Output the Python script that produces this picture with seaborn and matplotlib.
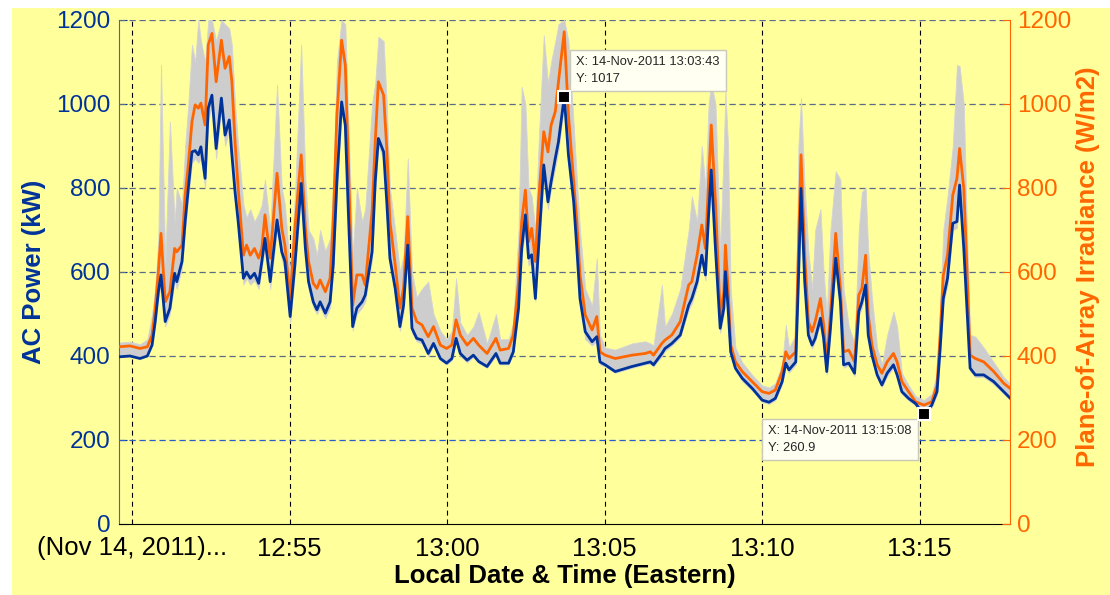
import pandas as pd
import matplotlib
matplotlib.use("Agg")
import matplotlib.pyplot as plt
from matplotlib.patches import Rectangle
import seaborn as sns

sns.set_style("white")
plt.rcParams['font.family'] = ['Liberation Sans', 'DejaVu Sans']

# sample times on 14-Nov-2011 (Eastern)
times = ["12:49:35","12:49:56","12:50:15","12:50:29","12:50:38","12:50:44","12:50:50","12:50:55","12:51:03","12:51:12",
         "12:51:21","12:51:25","12:51:35","12:51:41","12:51:47","12:51:54","12:52:00","12:52:06","12:52:11","12:52:19",
         "12:52:25","12:52:32","12:52:40","12:52:50","12:52:57","12:53:05","12:53:10","12:53:16","12:53:22","12:53:32",
         "12:53:38","12:53:45","12:53:53","12:54:01","12:54:07","12:54:13","12:54:23","12:54:36","12:54:45","12:54:51",
         "12:55:01","12:55:10","12:55:22","12:55:30","12:55:36","12:55:45","12:55:52","12:55:58","12:56:08","12:56:17",
         "12:56:23","12:56:30","12:56:39","12:56:46","12:56:52","12:57:00","12:57:08","12:57:18","12:57:24","12:57:37",
         "12:57:43","12:57:49","12:57:59","12:58:05","12:58:11","12:58:21","12:58:30","12:58:37","12:58:45","12:58:53",
         "12:59:02","12:59:12","12:59:24","12:59:34","12:59:47","12:59:59","13:00:09","13:00:17","13:00:25","13:00:38",
         "13:00:50","13:01:00","13:01:16","13:01:33","13:01:41","13:01:57","13:02:06","13:02:16","13:02:22","13:02:29",
         "13:02:35","13:02:41","13:02:48","13:02:54","13:03:04","13:03:12","13:03:18","13:03:26","13:03:32","13:03:43",
         "13:03:51","13:04:01","13:04:07","13:04:13","13:04:23","13:04:36","13:04:45","13:04:51","13:05:01","13:05:20",
         "13:05:52","13:06:17","13:06:27","13:06:33","13:06:49","13:06:55","13:07:08","13:07:24","13:07:40","13:07:46",
         "13:07:56","13:08:05","13:08:12","13:08:18","13:08:23","13:08:31","13:08:40","13:08:47","13:08:50","13:08:55",
         "13:09:00","13:09:09","13:09:22","13:09:41","13:10:00","13:10:13","13:10:25","13:10:38","13:10:45","13:10:51",
         "13:11:04","13:11:09","13:11:14","13:11:21","13:11:28","13:11:35","13:11:41","13:11:51","13:11:57","13:12:03",
         "13:12:10","13:12:20","13:12:29","13:12:35","13:12:45","13:12:56","13:13:04","13:13:10","13:13:17","13:13:22",
         "13:13:29","13:13:39","13:13:48","13:13:58","13:14:10","13:14:17","13:14:26","13:14:39","13:14:52","13:15:08",
         "13:15:23","13:15:33","13:15:39","13:15:45","13:15:53","13:16:03","13:16:11","13:16:16","13:16:24","13:16:30",
         "13:16:36","13:16:46","13:17:02","13:17:21","13:17:40","13:17:56"]

# AC power (kW)
ac_power = [398,400,394,400,426,482,553,593,482,514,
            597,577,625,720,799,886,889,879,898,823,
            990,1021,894,1014,926,962,879,791,720,585,
            600,585,597,573,625,680,577,724,648,625,
            494,617,811,656,577,529,510,529,502,529,
            617,815,1005,950,736,470,514,529,545,648,
            815,918,886,767,633,561,470,521,664,466,
            442,438,406,430,394,383,394,442,406,390,
            402,387,375,406,383,383,410,514,656,736,
            633,641,537,656,855,767,815,871,910,1017,
            879,767,656,537,458,434,446,386,379,363,
            375,383,386,379,406,418,430,450,521,537,
            577,640,593,736,843,656,466,514,601,514,
            410,371,347,323,295,290,299,339,383,367,
            386,577,799,577,450,426,442,490,442,363,
            466,633,529,379,383,359,506,529,569,450,
            402,355,331,359,379,355,315,299,287,260.9,
            283,315,418,537,585,716,720,807,656,514,
            371,355,355,339,315,295]

# plane-of-array irradiance, smoothed (W/m2)
poa_smooth = [422,424,418,422,450,514,601,692,529,553,
              656,648,664,783,855,958,998,990,1002,950,
              1141,1168,1053,1152,1085,1113,1053,910,799,640,
              664,640,656,633,656,736,633,835,704,664,
              537,704,879,704,625,573,561,581,553,585,
              720,974,1152,1093,855,521,593,593,569,744,
              910,1053,1021,894,720,617,514,561,732,514,
              482,474,446,470,426,418,426,486,450,426,
              442,426,406,442,414,418,450,577,720,795,
              672,704,625,767,934,886,950,982,1053,1172,
              974,815,720,593,498,462,494,410,402,394,
              402,406,410,402,430,438,450,482,569,577,
              640,712,656,815,950,767,498,553,664,561,
              426,386,363,339,315,311,319,363,410,394,
              410,656,879,640,482,458,482,537,474,386,
              498,692,561,410,414,386,545,561,640,498,
              426,379,359,386,406,386,339,315,291,283,
              291,331,450,593,640,783,823,894,799,609,
              402,394,386,363,335,319]

# spread of the individual irradiance sensors (W/m2)
poa_high = [432,434,428,440,500,560,680,1093,620,958,
            720,800,760,900,1000,1141,1100,1200,1150,1100,
            1200,1200,1150,1200,1190,1180,1140,1000,900,760,
            730,750,720,740,760,820,700,1045,800,760,
            600,780,1141,820,700,680,640,700,650,680,
            800,1100,1200,1190,950,640,800,720,750,1000,
            1050,1160,1150,1000,800,700,600,640,870,600,
            540,560,577,500,460,440,460,585,480,450,
            470,505,430,500,440,440,480,700,1041,1000,
            800,780,700,900,1164,1050,1100,1150,1190,1200,
            1150,950,820,700,560,520,633,450,420,415,
            430,435,430,425,569,470,500,560,700,780,
            720,900,800,1000,1050,1000,650,900,1030,900,
            560,420,385,355,330,325,335,380,474,420,
            450,900,1014,800,650,560,700,750,600,500,
            700,840,820,560,470,430,700,791,800,650,
            540,420,380,450,506,470,360,330,305,295,
            310,360,520,700,780,900,1093,1090,1000,700,
            450,446,420,385,350,330]

poa_low = [400,402,398,405,430,480,540,570,470,500,
           580,560,610,700,780,860,870,860,870,800,
           960,1000,870,990,900,940,860,770,700,570,
           585,570,580,560,610,660,560,700,630,600,
           480,600,790,640,560,515,500,515,490,515,
           600,790,980,930,720,460,500,515,530,630,
           790,900,870,750,620,545,460,505,650,455,
           435,430,400,425,390,380,390,435,400,385,
           398,383,372,400,380,380,405,505,640,700,
           615,625,530,640,820,750,800,850,890,1000,
           860,750,640,525,440,425,435,380,375,360,
           372,380,382,375,400,412,425,445,510,525,
           565,625,580,720,820,640,455,500,590,500,
           400,365,340,318,290,286,295,333,376,360,
           380,565,780,565,440,418,435,480,435,356,
           455,620,515,372,378,352,495,515,555,440,
           395,350,326,352,372,348,310,294,282,270,
           278,308,410,525,570,700,705,790,640,500,
           365,350,350,333,310,290]

tick_times = ["12:50", "12:55", "13:00", "13:05", "13:10", "13:15"]
tick_labels = ["(Nov 14, 2011)...", "12:55", "13:00", "13:05", "13:10", "13:15"]

tips_time = ["13:03:43", "13:15:08"]
tips_value = [1017, 260.9]

day = "2011-11-14 "
df = pd.DataFrame({
    "time": pd.to_datetime([day + t for t in times]),
    "ac_power": ac_power,
    "poa": poa_smooth,
    "poa_high": poa_high,
    "poa_low": poa_low,
})

yellow = "#ffff9c"
blue = "#003399"
orange = "#ff6600"

fig = plt.figure(figsize=(11.1, 5.95), dpi=100, facecolor="white")
fig.patches.append(Rectangle((12 / 1110, 0), 1, 1 - 8 / 595, transform=fig.transFigure,
                             facecolor=yellow, edgecolor="none", zorder=-10))
ax = fig.add_axes([119 / 1110, 1 - 524 / 595, 891 / 1110, 504 / 595])
ax.set_facecolor(yellow)

# grid (drawn by hand, like the two overlapping MATLAB axes)
for t in tick_times:
    ax.axvline(pd.Timestamp(day + t), color="black", lw=0.8, dashes=(4.5, 3.5), zorder=1)
for v in [400, 600, 800, 1000, 1200]:
    ax.axhline(v, color="#5a6b86", lw=0.9, dashes=(5, 3), zorder=1)
ax.axhline(200, color="#2a5cc8", lw=0.9, dashes=(5, 3), zorder=1)

ax.fill_between(df["time"], df["poa_low"], df["poa_high"], color="#cdcdcd", lw=0.6,
                edgecolor="#d4d4d4", zorder=2)
sns.lineplot(data=df, x="time", y="poa", ax=ax, color=orange, lw=2, zorder=3)
sns.lineplot(data=df, x="time", y="ac_power", ax=ax, color=blue, lw=2, zorder=4)

ax.set_xlim(pd.Timestamp(day + "12:49:35"), pd.Timestamp(day + "13:17:52"))
ax.set_ylim(0, 1200)
ax.set_xticks([pd.Timestamp(day + t) for t in tick_times])
ax.set_xticklabels(tick_labels)
ax.set_yticks(range(0, 1201, 200))

ax.tick_params(axis="x", direction="in", length=6, colors="black", labelsize=18.5, pad=9)
ax.tick_params(axis="y", direction="in", length=6, color=blue, labelcolor=blue, labelsize=17.5, pad=6)
ax.spines["top"].set_visible(False)
ax.spines["right"].set_visible(False)
ax.spines["left"].set_color("#4a68a8")
ax.spines["bottom"].set_color("black")

ax.set_xlabel("Local Date & Time (Eastern)", fontsize=18.5, fontweight="bold", color="black")
ax.xaxis.set_label_coords(0.5, -0.08)
ax.set_ylabel("AC Power (kW)", fontsize=18.5, fontweight="bold", color=blue)
ax.yaxis.set_label_coords(-0.082, 0.5)

ax2 = ax.twinx()
ax2.set_ylim(0, 1200)
ax2.set_yticks(range(0, 1201, 200))
ax2.tick_params(axis="y", direction="in", length=6, color=orange, labelcolor=orange, labelsize=17.5, pad=5)
for s in ["top", "left", "bottom"]:
    ax2.spines[s].set_visible(False)
ax2.spines["right"].set_color(orange)
ax2.set_ylabel("Plane-of-Array Irradiance (W/m2)", fontsize=18.5, fontweight="bold",
               color=orange, rotation=90)
ax2.yaxis.set_label_coords(1.074, 0.51)

# data tips
offsets = [(12, 12), (-12, -11)]
aligns = [("left", "bottom"), ("right", "top")]
for t, v, off, (ha, va) in zip(tips_time, tips_value, offsets, aligns):
    tt = pd.Timestamp(day + t)
    ax.plot([tt], [v], marker="s", ms=8, mfc="black", mec="white", mew=1.5, zorder=8, clip_on=False)
    ax.annotate("X: 14-Nov-2011 %s\nY: %s" % (t, ("%g" % v)), xy=(tt, v), xytext=off,
                textcoords="offset pixels", ha=ha, va=va, multialignment="left",
                fontsize=9.3, linespacing=1.5,
                bbox=dict(boxstyle="square,pad=0.5", fc="#fffff2", ec="#c9c9b8", lw=1), zorder=7)

fig.savefig("out.png", dpi=100, facecolor=fig.get_facecolor())
